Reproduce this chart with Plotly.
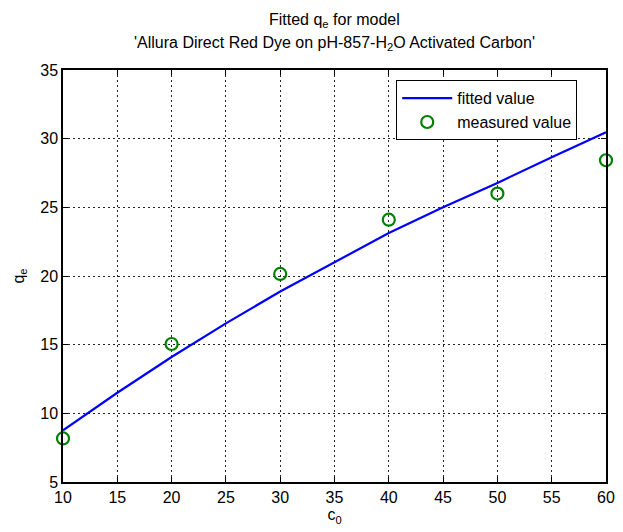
import plotly.graph_objects as go

# Measured data
c0_measured = [10, 20, 30, 40, 50, 60]
qe_measured = [8.17, 15.05, 20.15, 24.1, 26.0, 28.43]

# Fitted curve
c0_fit = [10, 15, 20, 25, 30, 35, 40, 45, 50, 55, 60]
qe_fit = [8.77, 11.5, 14.1, 16.55, 18.87, 21.0, 23.13, 25.0, 26.78, 28.65, 30.47]

x_ticks = [10, 15, 20, 25, 30, 35, 40, 45, 50, 55, 60]
y_ticks = [5, 10, 15, 20, 25, 30, 35]

title_line1 = "Fitted q<sub>e</sub> for model"
title_line2 = "'Allura Direct Red Dye on pH-857-H<sub>2</sub>O Activated Carbon'"

FONT = "Liberation Sans, Arial, sans-serif"
FS = 16

fig = go.Figure()
fig.add_trace(go.Scatter(
    x=c0_fit, y=qe_fit, mode="lines", name="fitted value",
    line=dict(color="#0000FF", width=2.2),
))
fig.add_trace(go.Scatter(
    x=c0_measured, y=qe_measured, mode="markers", name="measured value",
    marker=dict(symbol="circle-open", color="#008000", size=12,
                line=dict(color="#008000", width=2.2)),
    cliponaxis=False,
))

axis_common = dict(
    showline=True, linecolor="black", linewidth=1.5, mirror="ticks",
    ticks="inside", ticklen=5, tickcolor="black", tickwidth=1,
    showgrid=True, gridcolor="rgba(0,0,0,0.85)", gridwidth=1,
    griddash="2px,3px", zeroline=False,
    tickfont=dict(family=FONT, size=FS, color="black"),
)

fig.update_layout(
    width=623, height=532,
    margin=dict(l=63, r=8, t=70, b=50),
    paper_bgcolor="white", plot_bgcolor="white",
    font=dict(family=FONT, color="black"),
    xaxis=dict(axis_common, range=[10, 60], tickvals=x_ticks,
               title=dict(text="c<sub>0</sub>", standoff=4,
                          font=dict(family=FONT, size=FS))),
    yaxis=dict(axis_common, range=[5, 35], tickvals=y_ticks,
               title=dict(text="q<sub>e</sub>", standoff=12,
                          font=dict(family=FONT, size=FS))),
    legend=dict(
        x=0.947, y=0.975, xanchor="right", yanchor="top",
        bgcolor="white", bordercolor="black", borderwidth=1,
        font=dict(family=FONT, size=FS, color="black"),
        tracegroupgap=2, itemwidth=50,
    ),
    showlegend=True,
    annotations=[
        dict(text=title_line1, x=0.5, xref="paper", y=1, yref="paper",
             yanchor="middle", yshift=50, showarrow=False,
             font=dict(family=FONT, size=FS, color="black")),
        dict(text=title_line2, x=0.5, xref="paper", y=1, yref="paper",
             yanchor="middle", yshift=27, showarrow=False,
             font=dict(family=FONT, size=FS, color="black")),
    ],
)

fig.write_html("out.html")
